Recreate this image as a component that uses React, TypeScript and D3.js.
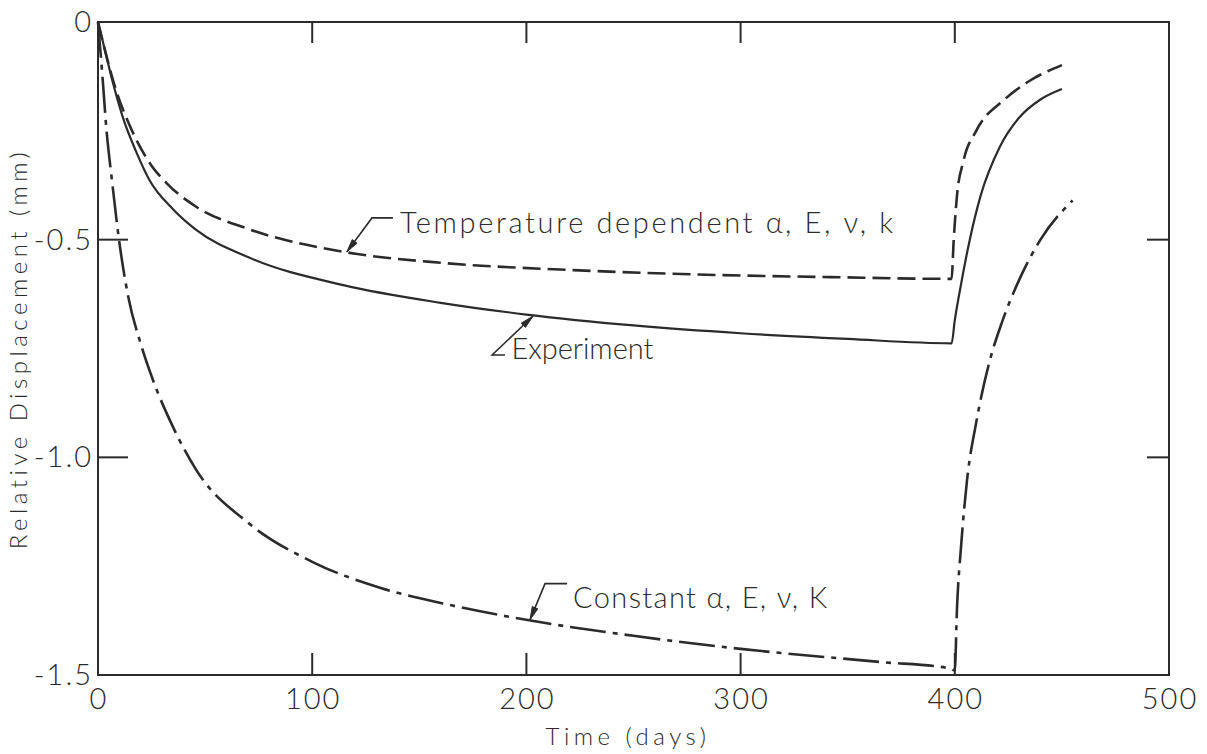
import React from 'react';
import * as d3 from 'd3';

// time (days) vs relative displacement (mm)
const experimentT = [0, 3, 7, 12, 18, 24, 35, 46, 70, 115, 160, 200, 250, 300, 350, 398.5, 400, 403, 407, 412, 421, 430, 440, 450];
const experimentD = [0, -0.06, -0.14, -0.225, -0.3, -0.363, -0.43, -0.478, -0.54, -0.605, -0.645, -0.672, -0.697, -0.715, -0.728, -0.738, -0.685, -0.6, -0.5, -0.4, -0.287, -0.22, -0.178, -0.154];

const tempDepT = [0, 3, 8, 15, 25, 32, 46, 70, 116, 160, 222, 280, 342, 398.5, 399.5, 401, 404, 410, 423, 435, 450];
const tempDepD = [0, -0.06, -0.15, -0.24, -0.33, -0.37, -0.425, -0.475, -0.529, -0.553, -0.57, -0.58, -0.586, -0.59, -0.5, -0.4, -0.32, -0.25, -0.179, -0.135, -0.099];

const constantT = [0, 2, 4, 6.5, 9.8, 14, 20, 25.7, 35, 46, 70, 100, 132, 165, 202, 250, 300, 365, 398, 400, 401, 403, 405.7, 410, 416, 422, 430, 440, 455];
const constantD = [0, -0.12, -0.25, -0.363, -0.5, -0.628, -0.74, -0.823, -0.93, -1.03, -1.15, -1.24, -1.3, -1.34, -1.375, -1.41, -1.44, -1.47, -1.485, -1.49, -1.35, -1.2, -1.053, -0.92, -0.784, -0.69, -0.593, -0.5, -0.41];

const xTicks = [0, 100, 200, 300, 400, 500];
const yTicks = [0, -0.5, -1.0, -1.5];
const yTickLabels = ['0', '-0.5', '-1.0', '-1.5'];

const INK = '#2b2b2b';
const FONT = 'Lato, "DejaVu Sans", sans-serif';

const width = 1207;
const height = 754;

const x = d3.scaleLinear().domain([0, 500]).range([98, 1169]);
const y = d3.scaleLinear().domain([0, -1.5]).range([22, 675]);

const line = d3
  .line<[number, number]>()
  .x(d => x(d[0]))
  .y(d => y(d[1]))
  .curve(d3.curveMonotoneX);

const zip = (t: number[], v: number[]) => t.map((d, i) => [d, v[i]] as [number, number]);

// small filled arrowhead pointing at `tip`, coming from `from`
const arrowHead = (tip: number[], from: number[]) => {
  const dx = from[0] - tip[0];
  const dy = from[1] - tip[1];
  const len = Math.hypot(dx, dy);
  const ux = dx / len;
  const uy = dy / len;
  const bx = tip[0] + ux * 13;
  const by = tip[1] + uy * 13;
  const px = -uy * 3;
  const py = ux * 3;
  return `M${tip[0]},${tip[1]}L${bx + px},${by + py}L${bx - px},${by - py}Z`;
};

// leader lines: tip on the curve, elbow, end of horizontal run, text anchor (data units)
const annotations = [
  {
    text: 'Temperature dependent α, E, ν, k',
    tip: [116.2, -0.528], elbow: [127.9, -0.45], end: [137.7, -0.45], label: [141, -0.4615], span: 493,
  },
  {
    text: 'Experiment',
    tip: [203, -0.676], elbow: [184, -0.765], end: [190, -0.765], label: [193, -0.75], span: 142,
  },
  {
    text: 'Constant α, E, ν, K',
    tip: [201.7, -1.373], elbow: [208.7, -1.29], end: [219, -1.29], label: [221.8, -1.322], span: 254,
  },
];

const App = () => {
  const px = (p: number[]) => [x(p[0]), y(p[1])];

  return (
    <div style={{ position: 'absolute', left: 0, top: 0 }}>
      <svg width={width} height={height} style={{ display: 'block', background: '#fff' }}>
        {/* frame */}
        <rect
          x={x(0)}
          y={y(0)}
          width={x(500) - x(0)}
          height={y(-1.5) - y(0)}
          fill="none"
          stroke={INK}
          strokeWidth={2}
        />

        {/* inward ticks */}
        {xTicks.slice(1, -1).map(t => (
          <g key={'xt' + t} stroke={INK} strokeWidth={2}>
            <line x1={x(t)} x2={x(t)} y1={y(-1.5)} y2={y(-1.5) - 22} />
            <line x1={x(t)} x2={x(t)} y1={y(0)} y2={y(0) + 21} />
          </g>
        ))}
        {yTicks.slice(1, -1).map(v => (
          <g key={'yt' + v} stroke={INK} strokeWidth={2}>
            <line x1={x(0)} x2={x(0) + 30} y1={y(v)} y2={y(v)} />
            <line x1={x(500)} x2={x(500) - 22} y1={y(v)} y2={y(v)} />
          </g>
        ))}

        {/* tick labels */}
        <g fontFamily={FONT} fontWeight={300} fontSize={29} fill={INK} letterSpacing={2}>
          {xTicks.map(t => (
            <text key={'xl' + t} x={x(t) + 1} y={709} textAnchor="middle">
              {t}
            </text>
          ))}
          {yTicks.map((v, i) => (
            <text key={'yl' + v} x={93} y={y(v) + 10} textAnchor="end">
              {yTickLabels[i]}
            </text>
          ))}
        </g>

        {/* axis titles */}
        <g fontFamily={FONT} fontWeight={300} fontSize={24} fill={INK} letterSpacing={4.5}>
          <text x={628} y={745} textAnchor="middle">
            Time (days)
          </text>
          <text
            transform={`translate(27,${(y(0) + y(-1.5)) / 2}) rotate(-90)`}
            textAnchor="middle"
          >
            Relative Displacement (mm)
          </text>
        </g>

        {/* curves */}
        <path d={line(zip(tempDepT, tempDepD)) || ''} fill="none" stroke={INK} strokeWidth={2.6} strokeDasharray="18 7" />
        <path d={line(zip(experimentT, experimentD)) || ''} fill="none" stroke={INK} strokeWidth={2.2} />
        <path d={line(zip(constantT, constantD)) || ''} fill="none" stroke={INK} strokeWidth={2.6} strokeDasharray="36 7 5 7" />

        {/* annotations */}
        {annotations.map(a => {
          const tip = px(a.tip);
          const elbow = px(a.elbow);
          const end = px(a.end);
          const lab = px(a.label);
          return (
            <g key={a.text}>
              <polyline
                points={`${tip[0]},${tip[1]} ${elbow[0]},${elbow[1]} ${end[0]},${end[1]}`}
                fill="none"
                stroke={INK}
                strokeWidth={1.6}
              />
              <path d={arrowHead(tip, elbow)} fill={INK} stroke={INK} strokeWidth={1} />
              <text
                x={lab[0]}
                y={lab[1] + 10}
                fontFamily={FONT}
                fontWeight={300}
                fontSize={29}
                fill={INK}
                textLength={a.span}
                lengthAdjust="spacing"
              >
                {a.text}
              </text>
            </g>
          );
        })}
      </svg>
    </div>
  );
};

export default App;
